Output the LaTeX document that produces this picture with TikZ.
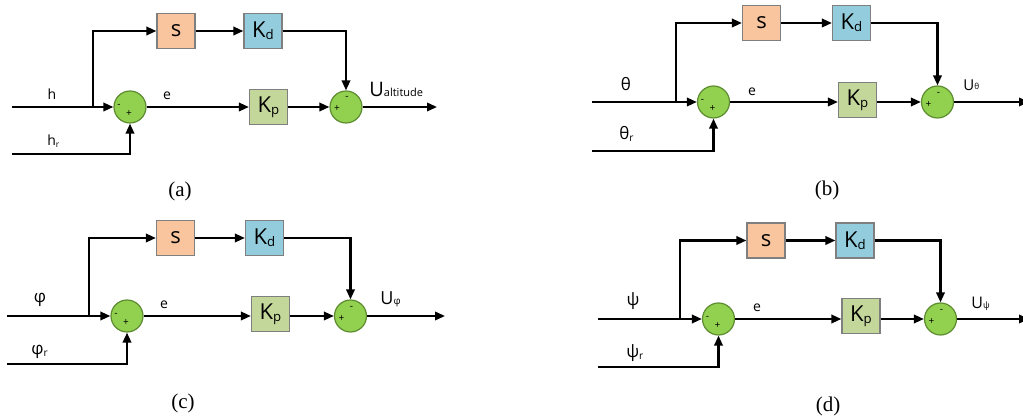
\documentclass[tikz,border=0pt]{standalone}
\usepackage{fontspec}
\usepackage{graphicx}
\usetikzlibrary{arrows.meta,calc}
\newfontfamily\labf{Open Sans}
\newfontfamily\capf{Liberation Serif}
\newcommand\sbs[1]{\raisebox{-0.15ex}{\scalebox{0.6}{#1}}}
\newcommand\sbu[1]{\scalebox{0.55}{#1}}
\definecolor{sfill}{HTML}{F9C59F}
\definecolor{kdfill}{HTML}{93CDDD}
\definecolor{kpfill}{HTML}{C4D79B}
\definecolor{sumfill}{HTML}{92D050}
\definecolor{sumline}{HTML}{5E8C31}
\definecolor{boxline}{HTML}{7F7F7F}
\tikzset{
  blk/.style={draw=boxline, line width=0.6pt, minimum width=19pt, minimum height=17.5pt, inner sep=0pt, font=\labf\fontsize{11}{12}\selectfont},
  sblk/.style={blk, fill=sfill},
  kdblk/.style={blk, fill=kdfill},
  kpblk/.style={blk, fill=kpfill},
  sumc/.style={circle, draw=sumline, fill=sumfill, line width=0.6pt, minimum size=16pt, inner sep=0pt},
  arr/.style={line width=1.1pt, -{Triangle[length=5pt,width=4.2pt]}},
  sgn/.style={inner sep=0pt, font=\labf\fontsize{5}{6}\selectfont},
  lab/.style={inner sep=0pt, font=\labf\fontsize{7}{8}\selectfont},
  glab/.style={inner sep=0pt, font=\labf\fontsize{8.5}{9}\selectfont},
  captxt/.style={inner sep=0pt, anchor=base, font=\capf\fontsize{10.5}{12}\selectfont},
}
\begin{document}
\begin{tikzpicture}[x=0.5pt,y=-0.5pt]
\useasboundingbox (0,0) rectangle (1023,416);
% ---------------- (a)
\coordinate (ain) at (12,107);
\coordinate (abr) at (93,107);
\coordinate (arin) at (12,154);
\coordinate (aout) at (437,107);
\node[sumc] (aS1) at (130,107) {};
\node[sblk] (as) at (176,31) {s};
\node[kdblk] (akd) at (263,31) {K\sbs{d}};
\node[kpblk] (akp) at (268.5,107) {K\sbs{p}};
\node[sumc] (aS2) at (346,107) {};
\draw[arr] (ain) -- (aS1.west);
\draw[arr] (abr) |- (as.west);
\draw[arr] (as) -- (akd);
\draw[arr] (akd.east) -| (aS2.north);
\draw[arr] (aS1) -- (akp);
\draw[arr] (akp) -- (aS2);
\draw[arr] (aS2) -- (aout);
\draw[arr] (arin) -| (aS1.south);
\node[sgn] (asm1) at ($(aS1)+(-11,-1)$) {-};
\node[sgn] (asp1) at ($(aS1)+(-1,7)$) {+};
\node[sgn] (asp2) at ($(aS2)+(-9,2)$) {+};
\node[sgn] (asm2) at ($(aS2)+(1,-9)$) {-};
\node[lab, anchor=base] (ah) at (52,100) {h};
\node[lab, anchor=base west] (ahr) at (47,146) {h\sbs{r}};
\node[lab, anchor=base] (ae) at (167,100) {e};
\node[inner sep=0pt, anchor=base west, font=\labf\fontsize{10}{11}\selectfont] (au) at (369,97) {U\sbu{altitude}};
\node[captxt] (acap) at (180,197) {(a)};
% ---------------- (b)
\coordinate (bin) at (592,102);
\coordinate (bbr) at (676,102);
\coordinate (brin) at (592,151);
\coordinate (bout) at (1029,102);
\node[sumc] (bS1) at (713.5,102) {};
\node[sblk] (bs) at (761.5,23) {s};
\node[kdblk] (bkd) at (851.5,23) {K\sbs{d}};
\node[kpblk] (bkp) at (857.5,100) {K\sbs{p}};
\node[sumc] (bS2) at (937.5,102) {};
\draw[arr] (bin) -- (bS1.west);
\draw[arr] (bbr) |- (bs.west);
\draw[arr] (bs) -- (bkd);
\draw[arr] (bkd.east) -| (bS2.north);
\draw[arr] (bS1) -- (bkp.west |- bS1);
\draw[arr] (bkp.east |- bS2) -- (bS2);
\draw[arr] (bS2) -- (bout);
\draw[arr] (brin) -| (bS1.south);
\node[sgn] (bsm1) at ($(bS1)+(-11,-1)$) {-};
\node[sgn] (bsp1) at ($(bS1)+(-1,7)$) {+};
\node[sgn] (bsp2) at ($(bS2)+(-9,3)$) {+};
\node[sgn] (bsm2) at ($(bS2)+(1,-8)$) {-};
\node[glab, anchor=base] (bth) at (626,91) {θ};
\node[glab, anchor=base west] (bthr) at (619,140) {θ\sbs{r}};
\node[lab, anchor=base] (be) at (752,96) {e};
\node[inner sep=0pt, anchor=base west, font=\labf\fontsize{7.5}{8}\selectfont] (bu) at (963,91) {U\raisebox{0.2ex}{\sbu{θ}}};
\node[captxt] (bcap) at (827,196) {(b)};
% ---------------- (c)
\coordinate (cin) at (7,316);
\coordinate (cbr) at (89,316);
\coordinate (crin) at (7,364);
\coordinate (cout) at (445,316);
\node[sumc] (cS1) at (127,316) {};
\node[sblk] (cs) at (175.5,238) {s};
\node[kdblk] (ckd) at (264.5,238) {K\sbs{d}};
\node[kpblk] (ckp) at (270.5,314) {K\sbs{p}};
\node[sumc] (cS2) at (350.5,316) {};
\draw[arr] (cin) -- (cS1.west);
\draw[arr] (cbr) |- (cs.west);
\draw[arr] (cs) -- (ckd);
\draw[arr] (ckd.east) -| (cS2.north);
\draw[arr] (cS1) -- (ckp.west |- cS1);
\draw[arr] (ckp.east |- cS2) -- (cS2);
\draw[arr] (cS2) -- (cout);
\draw[arr] (crin) -| (cS1.south);
\node[sgn] (csm1) at ($(cS1)+(-11,-1)$) {-};
\node[sgn] (csp1) at ($(cS1)+(-1,7)$) {+};
\node[sgn] (csp2) at ($(cS2)+(-9,3)$) {+};
\node[sgn] (csm2) at ($(cS2)+(1,-8)$) {-};
\node[glab, anchor=base] (cph) at (40,303) {φ};
\node[glab, anchor=base west] (cphr) at (31,355) {φ\sbs{r}};
\node[lab, anchor=base] (ce) at (164,309) {e};
\node[inner sep=0pt, anchor=base west, font=\labf\fontsize{9}{10}\selectfont] (cu) at (380,305) {U\sbu{φ}};
\node[captxt] (ccap) at (183,409) {(c)};
% ---------------- (d)
\coordinate (din) at (598,319);
\coordinate (dbr) at (680,319);
\coordinate (drin) at (598,367);
\coordinate (dout) at (1029,319);
\node[sumc] (dS1) at (718.5,319) {};
\node[sblk] (ds) at (766,240.5) {s};
\node[kdblk] (dkd) at (855,240.5) {K\sbs{d}};
\node[kpblk] (dkp) at (861,316) {K\sbs{p}};
\node[sumc] (dS2) at (940.5,319) {};
\draw[arr] (din) -- (dS1.west);
\draw[arr] (dbr) |- (ds.west);
\draw[arr] (ds) -- (dkd);
\draw[arr] (dkd.east) -| (dS2.north);
\draw[arr] (dS1) -- (dkp.west |- dS1);
\draw[arr] (dkp.east |- dS2) -- (dS2);
\draw[arr] (dS2) -- (dout);
\draw[arr] (drin) -| (dS1.south);
\node[sgn] (dsm1) at ($(dS1)+(-11,-1)$) {-};
\node[sgn] (dsp1) at ($(dS1)+(-1,7)$) {+};
\node[sgn] (dsp2) at ($(dS2)+(-9,3)$) {+};
\node[sgn] (dsm2) at ($(dS2)+(1,-8)$) {-};
\node[glab, anchor=base] (dps) at (633,306) {ψ};
\node[glab, anchor=base west] (dpsr) at (626,358) {ψ\sbs{r}};
\node[lab, anchor=base] (de) at (757,312) {e};
\node[inner sep=0pt, anchor=base west, font=\labf\fontsize{8}{9}\selectfont] (du) at (971,309) {U\sbu{ψ}};
\node[captxt] (dcap) at (828,412) {(d)};
\end{tikzpicture}
\end{document}
